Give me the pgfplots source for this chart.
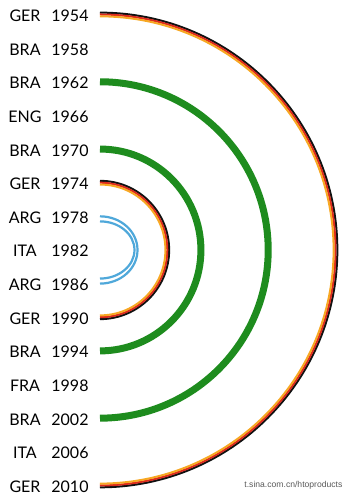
\documentclass[border=0pt]{standalone}
\usepackage{pgfplots}
\pgfplotsset{compat=1.18}
\usepackage{pgfplotstable}
\usepackage{fontspec}
\setmainfont{Lato}
\newfontfamily\markfont{Liberation Sans}

\definecolor{gerblack}{HTML}{111111}
\definecolor{gerred}{HTML}{DC2A1C}
\definecolor{gergold}{HTML}{F7A823}
\definecolor{bragreen}{HTML}{1E8C1E}
\definecolor{argblue}{HTML}{4FA8DA}

% World Cup winners, 1954--2010
\pgfplotstableread{
year country
1954 GER
1958 BRA
1962 BRA
1966 ENG
1970 BRA
1974 GER
1978 ARG
1982 ITA
1986 ARG
1990 GER
1994 BRA
1998 FRA
2002 BRA
2006 ITA
2010 GER
}\winners

\begin{document}
\begin{tikzpicture}
% vertical axis: years measured from 1982, the middle of the list
\begin{axis}[
  width=347pt, height=500pt, scale only axis,
  xmin=-11.89, xmax=29.37,
  ymin=-29.724, ymax=29.73,
  y dir=reverse,
  axis lines=none, ticks=none,
  clip=false,
  disabledatascaling,
  every node near coord/.style={anchor=center, inner sep=0pt,
    font=\fontsize{16}{18}\selectfont, text=black},
]
% keep the whole plotting area as the picture's extent
\path (rel axis cs:0,0) rectangle (rel axis cs:1,1);

% country and year columns
\addplot[only marks, mark=none, nodes near coords, point meta=explicit symbolic]
  table[x expr=-8.92, y expr=\thisrow{year}-1982+0.15, meta=country] {\winners};
\addplot[only marks, mark=none, nodes near coords, point meta=explicit symbolic]
  table[x expr=-3.57, y expr=\thisrow{year}-1982+0.15, meta=year] {\winners};

% Germany: 1954 -- 2010 and 1974 -- 1990, flag stripes
\draw[gerblack, line width=2pt] (axis cs:0,-28.22) arc[start angle=-90, end angle=90, radius=28.22];
\draw[gerred,   line width=2pt] (axis cs:0,-28)    arc[start angle=-90, end angle=90, radius=28];
\draw[gergold,  line width=2pt] (axis cs:0,-27.78) arc[start angle=-90, end angle=90, radius=27.78];

\draw[gerblack, line width=2pt] (axis cs:0,-8.22) arc[start angle=-90, end angle=90, radius=8.22];
\draw[gerred,   line width=2pt] (axis cs:0,-8)    arc[start angle=-90, end angle=90, radius=8];
\draw[gergold,  line width=2pt] (axis cs:0,-7.78) arc[start angle=-90, end angle=90, radius=7.78];

% Brazil: 1962 -- 2002 and 1970 -- 1994
\draw[bragreen, line width=7pt] (axis cs:0,-20) arc[start angle=-90, end angle=90, radius=20];
\draw[bragreen, line width=7pt] (axis cs:0,-12) arc[start angle=-90, end angle=90, radius=12];

% Argentina: 1978 -- 1986, two thin stripes
\draw[argblue, line width=2.2pt] (axis cs:0,-4.0) arc[start angle=-90, end angle=90, x radius=4.46, y radius=4.0];
\draw[argblue, line width=2.2pt] (axis cs:0,-3.4) arc[start angle=-90, end angle=90, x radius=4.1, y radius=3.4];

\node[anchor=east, inner sep=0pt, text=black!65, font=\markfont\fontsize{8.6}{10}\selectfont]
  at (axis cs:28.85,27.95) {t.sina.com.cn/htoproducts};
\end{axis}
\end{tikzpicture}
\end{document}
